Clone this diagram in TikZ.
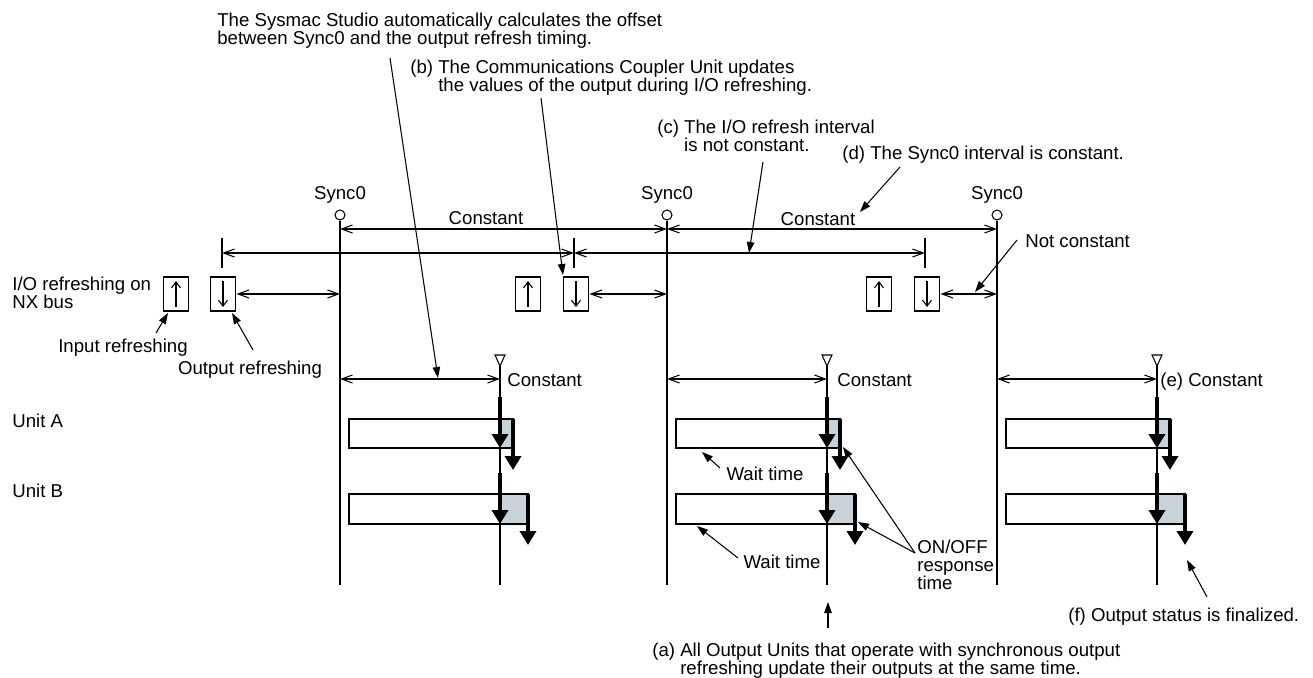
\documentclass[tikz,border=0pt]{standalone}
\usepackage{fontspec}
\setmainfont{Liberation Sans}
\usetikzlibrary{arrows.meta}
\definecolor{respgray}{RGB}{200,211,217}

\begin{document}
\begin{tikzpicture}[x=0.02cm, y=-0.02cm,
    lbl/.style={inner sep=0pt, font=\fontsize{10.6}{10.2}\selectfont},
    thinline/.style={line width=0.6pt},
    dim/.style={thinline, {Straight Barb[length=2.2mm,width=1.6mm]}-{Straight Barb[length=2.2mm,width=1.6mm]}},
    callout/.style={thinline, -{Triangle[length=2.2mm,width=1.5mm]}},
    bigdown/.style={line width=2.3pt, -{Triangle[length=2.8mm,width=3.2mm]}},
    bar/.style={line width=1.2pt},
    iobox/.style={draw, line width=1.1pt, minimum width=0.5cm, minimum height=0.68cm, inner sep=0pt},
    syncmark/.style={draw, thinline, circle, minimum size=0.2cm, inner sep=0pt}]
    \useasboundingbox (0,0) rectangle (1313,677);

    % Sync0 pulses, output timing and the two units
    \foreach \n/\S in {1/340, 2/667, 3/997}{
        \pgfmathsetmacro\T{\S+160}
        \node[syncmark] (s\n) at (\S,215) {};
        \node[lbl, anchor=base] (sn\n) at (\S,199) {Sync0};
        \draw[thinline] (s\n.south) -- (\S,585);
        \draw[thinline] (\T-5,355) -- (\T+5,355) -- (\T,366) coordinate (t\n) -- cycle;
        \draw[thinline] (t\n) -- (\T,585);
        \draw[dim] (\S,379) -- (\T,379);
        \fill[respgray] (\T,419) rectangle (\T+13,448);
        \fill[respgray] (\T,494) rectangle (\T+28,524);
        \draw[bar] (\S+9,419) rectangle (\T+13,448);
        \draw[bar] (\S+9,494) rectangle (\T+28,524);
        \draw[bigdown] (\T,397) -- (\T,448);
        \draw[bigdown] (\T,473) -- (\T,524);
        \draw[bigdown] (\T+13,419) -- (\T+13,470);
        \draw[bigdown] (\T+28,494) -- (\T+28,545);
    }

    % I/O refreshing on the NX bus
    \foreach \n/\xi/\xo in {1/176/223, 2/528/576, 3/879/927}{
        \node[iobox] (ib\n) at (\xi,294) {};
        \node[iobox] (ob\n) at (\xo,294) {};
        \draw[thinline, -{Straight Barb[length=1.2mm,width=1.8mm]}] (\xi,307) -- (\xi,281);
        \draw[thinline, -{Straight Barb[length=1.2mm,width=1.8mm]}] (\xo,281) -- (\xo,307);
        \draw[dim] (ob\n.east) -- (ob\n.east -| s\n);
    }

    % intervals
    \draw[dim] (340,229) -- (667,229);
    \draw[dim] (667,229) -- (997,229);
    \foreach \x in {222,574,925}
        \draw[thinline] (\x,238) -- (\x,268);
    \draw[dim] (222,253) -- (574,253);
    \draw[dim] (574,253) -- (925,253);

    % labels
    \node[lbl, anchor=base] (k1) at (486,224) {Constant};
    \node[lbl, anchor=base] (k2) at (818,225) {Constant};
    \node[lbl, anchor=base west] (k3) at (507,386) {Constant};
    \node[lbl, anchor=base west] (k4) at (837,386) {Constant};
    \node[lbl, anchor=base west] (k5) at (1160,386) {(e) Constant};
    \node[lbl, anchor=base west] (nc) at (1025,247) {Not constant};
    \node[lbl, anchor=north west, align=left] (nxbus) at (12,277) {I/O refreshing on\\NX bus};
    \node[lbl, anchor=base] (inref) at (123,352) {Input refreshing};
    \node[lbl, anchor=base] (outref) at (250,374) {Output refreshing};
    \node[lbl, anchor=base west] (ua) at (12,427) {Unit A};
    \node[lbl, anchor=base west] (ub) at (12,497) {Unit B};
    \node[lbl, anchor=base] (w1) at (765,480) {Wait time};
    \node[lbl, anchor=base] (w2) at (782,568) {Wait time};
    \node[lbl, anchor=north west, align=left] (onoff) at (917,540) {ON/OFF\\response\\time};

    \node[lbl, anchor=north west, align=left] (offs) at (217,13)
        {The Sysmac Studio automatically calculates the offset\\between Sync0 and the output refresh timing.};
    \node[lbl, anchor=north west, align=left] (nb) at (410,60)
        {(b) The Communications Coupler Unit updates\\\phantom{(b) }the values of the output during I/O refreshing.};
    \node[lbl, anchor=north west, align=left] (nc2) at (657,120)
        {(c) The I/O refresh interval\\\phantom{(c) }is not constant.};
    \node[lbl, anchor=base west] (nd) at (842,159) {(d) The Sync0 interval is constant.};
    \node[lbl, anchor=north west, align=left] (na) at (652,643)
        {(a) All Output Units that operate with synchronous output\\\phantom{(a) }refreshing update their outputs at the same time.};
    \node[lbl, anchor=base west] (nf) at (1068,621) {(f) Output status is finalized.};

    % callouts
    \draw[callout] (390,58) -- (438,378);
    \draw[callout] (541,98) -- (563,275);
    \draw[callout] (763,162) -- (749,253);
    \draw[callout] (900,167) -- (860,212);
    \draw[callout] (1017,240) -- (975,292);
    \draw[callout] (156,333) -- (168,313);
    \draw[callout] (253,350) -- (232,313);
    \draw[callout] (720,468) -- (702,452);
    \draw[callout] (738,558) -- (697,526);
    \draw[callout] (915,553) -- (843,447);
    \draw[callout] (915,553) -- (858,522);
    \draw[callout] (1207,597) -- (1187,560);
    \draw[callout] (828,628) -- (828,602);
\end{tikzpicture}
\end{document}
